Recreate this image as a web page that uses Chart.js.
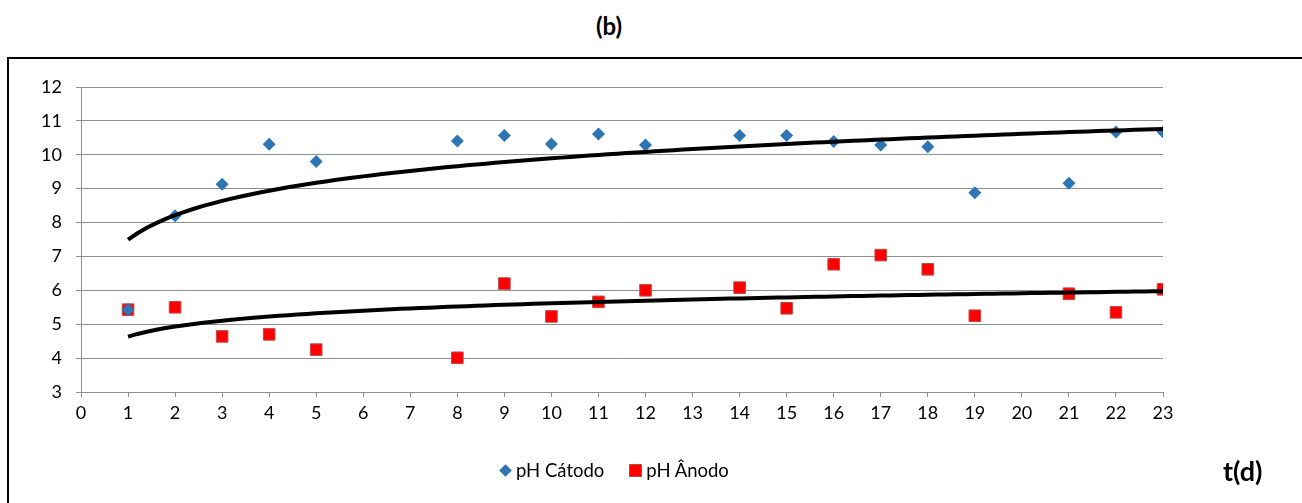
<!DOCTYPE html>
<html>
<head>
<meta charset="utf-8">
<script src="https://cdn.jsdelivr.net/npm/chart.js@4"></script>
<style>
  body { margin: 0; background: #fff; font-family: Lato, "Noto Sans", sans-serif; }
  #wrap { position: relative; width: 1302px; height: 503px; overflow: hidden; }
  #frame { position: absolute; left: 7px; top: 57px; width: 1400px; height: 500px;
           border-left: 2px solid #000; border-top: 2px solid #000; }
  #titulo { position: absolute; left: 0; width: 1218px; top: 11px; text-align: center;
            font-weight: bold; font-size: 24px; color: #000; }
  #eixoX { position: absolute; left: 1223px; top: 454px; font-weight: bold; font-size: 27px; color: #000; }
  #legenda { position: absolute; left: 500px; top: 459px; font-size: 18.5px; color: #000; display: flex; align-items: center; }
  .diam { width: 9px; height: 9px; background: #2e75b6; transform: rotate(45deg); margin: 0 6px 0 1px; }
  .quad { width: 11px; height: 11px; background: #ff0000; border: 1px solid #be4b48; margin: 0 4px 0 25px; }
  canvas { position: absolute; left: 0; top: 0; }
</style>
</head>
<body>
<div id="wrap">
  <div id="frame"></div>
  <div id="titulo">(b)</div>
  <canvas id="grafico" width="1302" height="503"></canvas>
  <div id="legenda"><span class="diam"></span>pH Cátodo<span class="quad"></span>pH Ânodo</div>
  <div id="eixoX">t(d)</div>
</div>
<script>
// dias de medição (t em dias)
const dias = [1, 2, 3, 4, 5, 8, 9, 10, 11, 12, 14, 15, 16, 17, 18, 19, 21, 22, 23];
// pH lido no cátodo e no ânodo
const phCatodo = [5.43, 8.2, 9.13, 10.31, 9.8, 10.41, 10.57, 10.32, 10.61, 10.29, 10.57, 10.57, 10.39, 10.29, 10.24, 8.88, 9.16, 10.67, 10.67];
const phAnodo = [5.43, 5.5, 4.64, 4.7, 4.25, 4.01, 6.2, 5.23, 5.66, 6.0, 6.08, 5.47, 6.77, 7.04, 6.62, 5.25, 5.9, 5.35, 6.03];

const cinza = '#8e8e8e';

// linha de tendência logarítmica (mínimos quadrados, como no Excel)
const tendenciaLog = (xs, ys) => {
  const n = xs.length;
  const ls = xs.map(x => Math.log(x));
  const ml = ls.reduce((s, v) => s + v, 0) / n;
  const my = ys.reduce((s, v) => s + v, 0) / n;
  let sxy = 0, sxx = 0;
  for (let i = 0; i < n; i++) {
    sxy += (ls[i] - ml) * (ys[i] - my);
    sxx += (ls[i] - ml) * (ls[i] - ml);
  }
  const b = sxy / sxx;
  const a = my - b * ml;
  const pts = [];
  const x0 = xs[0], x1 = xs[n - 1];
  for (let k = 0; k <= 110; k++) {
    const x = x0 + (x1 - x0) * k / 110;
    pts.push({ x: x, y: a + b * Math.log(x) });
  }
  return pts;
};

const pares = (xs, ys) => xs.map((x, i) => ({ x: x, y: ys[i] }));

const ctx = document.getElementById('grafico').getContext('2d');

new Chart(ctx, {
  type: 'scatter',
  data: {
    datasets: [
      {
        label: 'Tendência cátodo',
        type: 'line',
        data: tendenciaLog(dias, phCatodo),
        borderColor: '#000',
        borderWidth: 4,
        pointRadius: 0,
        fill: false,
        order: 0
      },
      {
        label: 'Tendência ânodo',
        type: 'line',
        data: tendenciaLog(dias, phAnodo),
        borderColor: '#000',
        borderWidth: 4,
        pointRadius: 0,
        fill: false,
        order: 0
      },
      {
        label: 'pH Cátodo',
        data: pares(dias, phCatodo),
        pointStyle: 'rectRot',
        pointRadius: 6.5,
        pointHoverRadius: 6.5,
        backgroundColor: '#2e75b6',
        borderColor: '#2e75b6',
        borderWidth: 0,
        order: 1
      },
      {
        label: 'pH Ânodo',
        data: pares(dias, phAnodo),
        pointStyle: 'rect',
        pointRadius: 8.2,
        pointHoverRadius: 8.2,
        backgroundColor: '#ff0000',
        borderColor: '#be4b48',
        borderWidth: 1,
        order: 2
      }
    ]
  },
  options: {
    responsive: false,
    animation: false,
    layout: { padding: { left: 0, right: 139, top: 87, bottom: 0 } },
    plugins: {
      legend: { display: false },
      tooltip: { enabled: false }
    },
    scales: {
      x: {
        type: 'linear',
        min: 0,
        max: 23,
        afterFit: (scale) => { scale.height = 111; },
        ticks: {
          stepSize: 1,
          color: '#000',
          padding: 5,
          maxRotation: 0,
          font: { family: 'Lato', size: 18 }
        },
        grid: {
          drawOnChartArea: false,
          color: cinza,
          tickLength: 5
        },
        border: { color: cinza }
      },
      y: {
        min: 3,
        max: 12,
        afterFit: (scale) => { scale.width = 81; },
        ticks: {
          stepSize: 1,
          color: '#000',
          padding: 14,
          font: { family: 'Lato', size: 18 }
        },
        grid: {
          color: cinza,
          tickLength: 5
        },
        border: { color: cinza }
      }
    }
  }
});
</script>
</body>
</html>
